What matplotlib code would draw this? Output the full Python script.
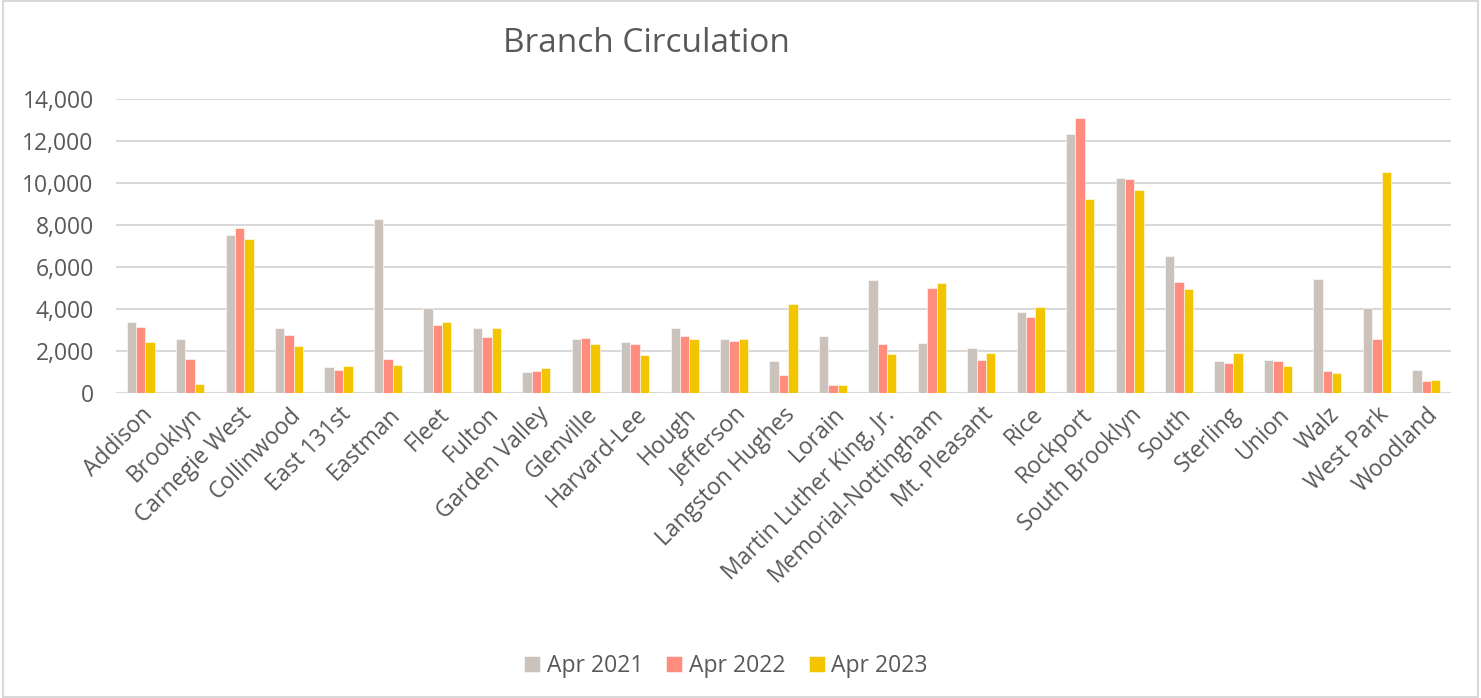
import numpy as np
import matplotlib.pyplot as plt
from matplotlib.patches import Rectangle
from matplotlib.ticker import FuncFormatter

branches = [
    "Addison", "Brooklyn", "Carnegie West", "Collinwood", "East 131st", "Eastman",
    "Fleet", "Fulton", "Garden Valley", "Glenville", "Harvard-Lee", "Hough",
    "Jefferson", "Langston Hughes", "Lorain", "Martin Luther King, Jr.",
    "Memorial-Nottingham", "Mt. Pleasant", "Rice", "Rockport", "South Brooklyn",
    "South", "Sterling", "Union", "Walz", "West Park", "Woodland",
]
apr_2021 = [3360, 2580, 7530, 3090, 1250, 8270, 4040, 3090, 980, 2550, 2420, 3110,
            2550, 1540, 2690, 5370, 2360, 2140, 3850, 12310, 10250, 6530, 1540,
            1570, 5400, 4060, 1090]
apr_2022 = [3150, 1620, 7860, 2740, 1090, 1620, 3220, 2680, 1060, 2630, 2330, 2710,
            2490, 870, 380, 2330, 4980, 1570, 3600, 13090, 10190, 5280, 1410,
            1540, 1060, 2570, 590]
apr_2023 = [2440, 440, 7310, 2220, 1300, 1350, 3390, 3070, 1200, 2350, 1820, 2580,
            2570, 4230, 400, 1870, 5230, 1900, 4100, 9240, 9680, 4960, 1890,
            1300, 970, 10490, 620]
series_names = ["Apr 2021", "Apr 2022", "Apr 2023"]
colors = ["#CBC3BB", "#FF8C7C", "#F2C500"]
text_color = "#595959"

plt.rcParams["font.family"] = ["Open Sans", "DejaVu Sans"]

fig = plt.figure(figsize=(14.81, 6.98), dpi=100)
ax = fig.add_axes([116 / 1481, 1 - 393 / 698, (1451 - 116) / 1481, (393 - 98.7) / 698])

x = np.arange(len(branches))
w = 0.19
for i, (vals, name, c) in enumerate(zip([apr_2021, apr_2022, apr_2023], series_names, colors)):
    ax.bar(x + (i - 1) * w, vals, width=w, color=c, label=name,
           edgecolor="white", linewidth=0.4, zorder=3)

ax.set_xlim(-0.5, len(branches) - 0.5)
ax.set_ylim(0, 14000)
ax.set_yticks(np.arange(0, 14001, 2000))
ax.yaxis.set_major_formatter(FuncFormatter(lambda v, p: f"{int(v):,}"))
ax.grid(axis="y", color="#D9D9D9", linewidth=1.5, zorder=0)
ax.set_axisbelow(True)
for s in ax.spines.values():
    s.set_visible(False)
ax.axhline(0, color="#D9D9D9", linewidth=1.5, zorder=2)
ax.tick_params(axis="both", length=0, colors=text_color, labelsize=16.5)
ax.tick_params(axis="y", pad=16)
ax.set_xticks(x)
ax.set_xticklabels(branches, rotation=45, ha="right", rotation_mode="anchor")
ax.tick_params(axis="x", pad=7)

fig.text(646 / 1481, 1 - 43 / 698, "Branch Circulation", ha="center", va="center",
         fontsize=24, color=text_color)

leg = fig.legend(loc="center", bbox_to_anchor=(726 / 1481, 1 - 666 / 698), ncol=3,
                 frameon=False, fontsize=16.5, handlelength=0.7, handleheight=0.7,
                 handletextpad=0.3, columnspacing=1.0)
for t in leg.get_texts():
    t.set_color(text_color)

fig.patches.append(Rectangle((0.002, 0.002), 0.996, 0.996, transform=fig.transFigure,
                             fill=False, edgecolor="#D9D9D9", linewidth=1.5))

fig.savefig("out.png", dpi=100)
